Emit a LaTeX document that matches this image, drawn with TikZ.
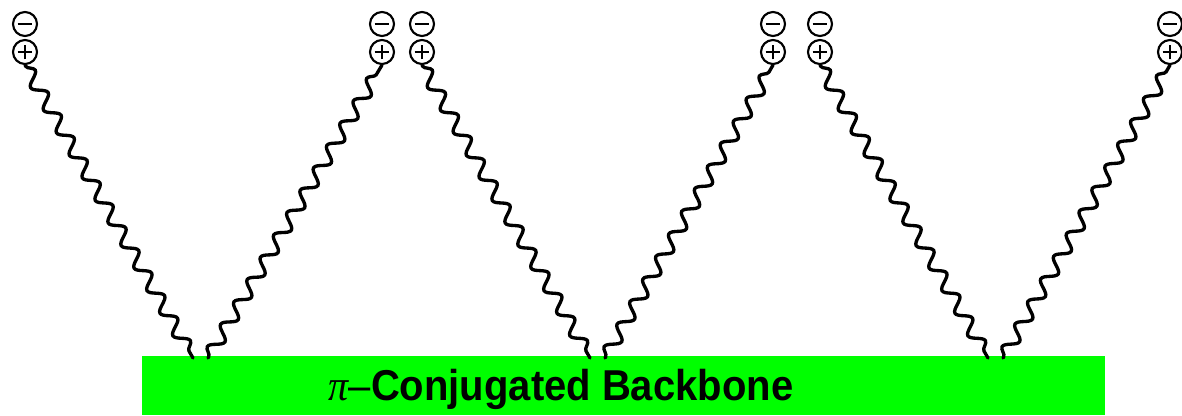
\documentclass[tikz,border=0pt]{standalone}
\usepackage{fontspec}
\setmainfont{Liberation Sans}
\newfontfamily\serifit{Liberation Serif}
\usetikzlibrary{decorations.pathmorphing}
\definecolor{backbone}{RGB}{0,255,0}
\tikzset{
  ion/.style={circle, draw, line width=1.6pt, minimum size=18pt, inner sep=0pt},
  minusion/.style={ion, path picture={\draw[line width=1.9pt] ([xshift=-5.5pt]path picture bounding box.center) -- ([xshift=5.5pt]path picture bounding box.center);}},
  plusion/.style={ion, path picture={\draw[line width=1.9pt] ([xshift=-5.5pt]path picture bounding box.center) -- ([xshift=5.5pt]path picture bounding box.center) ([yshift=-5.5pt]path picture bounding box.center) -- ([yshift=5.5pt]path picture bounding box.center);}},
  sidechain/.style={decorate, decoration={snake, segment length=19.5pt, amplitude=4.8pt, pre length=1pt, post length=1pt}, line width=2.5pt, line cap=round},
  bb/.style={fill=backbone, draw=none, minimum width=722.25pt, minimum height=44.25pt, inner sep=0pt},
}
\begin{document}
\begin{tikzpicture}[x=0.75pt,y=-0.75pt]
\useasboundingbox (0,0) rectangle (1182,415);
\node[bb] (bone) at (623.5,385.5) {};
\node[font=\bfseries\fontsize{30}{36}\selectfont] (label) at (561,389) {\scalebox{1}[1.08]{{\serifit\itshape\mdseries π}{\mdseries–}Conjugated Backbone}};
% ions
\foreach \i/\x in {1/25,2/382,3/422,4/773,5/820,6/1170}{
  \node[minusion] (m\i) at (\x,24) {};
  \node[plusion] (p\i) at (\x,52) {};
}
\coordinate (b1) at (193,358);
\coordinate (b2) at (208,358);
\coordinate (b3) at (590,358);
\coordinate (b4) at (605,358);
\coordinate (b5) at (988,358);
\coordinate (b6) at (1003,358);
\draw[sidechain] (p1.south) -- (b1);
\draw[sidechain] (b2) -- (p2.south);
\draw[sidechain] (p3.south) -- (b3);
\draw[sidechain] (b4) -- (p4.south);
\draw[sidechain] (p5.south) -- (b5);
\draw[sidechain] (b6) -- (p6.south);
\end{tikzpicture}
\end{document}
